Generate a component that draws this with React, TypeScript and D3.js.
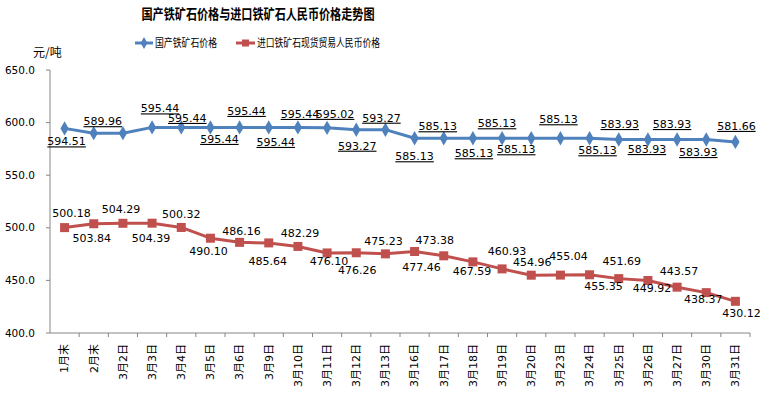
import React from 'react';
import * as d3 from 'd3';

const categories = ['1月末', '2月末', '3月2日', '3月3日', '3月4日', '3月5日', '3月6日', '3月9日', '3月10日', '3月11日', '3月12日', '3月13日',
  '3月16日', '3月17日', '3月18日', '3月19日', '3月20日', '3月23日', '3月24日', '3月25日', '3月26日', '3月27日', '3月30日', '3月31日'];

const domestic = [594.51, 589.96, 589.96, 595.44, 595.44, 595.44, 595.44, 595.44, 595.44, 595.02, 593.27, 593.27,
  585.13, 585.13, 585.13, 585.13, 585.13, 585.13, 585.13, 583.93, 583.93, 583.93, 583.93, 581.66];

const imported = [500.18, 503.84, 504.29, 504.39, 500.32, 490.10, 486.16, 485.64, 482.29, 476.10, 476.26, 475.23,
  477.46, 473.38, 467.59, 460.93, 454.96, 455.04, 455.35, 451.69, 449.92, 443.57, 438.37, 430.12];

const yTicks = [400, 450, 500, 550, 600, 650];

// label nudges (dx, dy) relative to each marker, as placed in the original
const domNudge: ([number, number] | null)[] = [
  [2, 17], [9, -8], null, [8, -15], [6, -5.5], [9, 15.5], [7, -12.5], [7, 18.5], [2, -9.5], [8, -10], [1, 20], [-4, -8],
  [0, 22], [-6, -8], [1, 19], [-5, -11], [-15, 15], [-2, -15], [8, 16], [1, -11.5], [-1, 13.5], [-5, -11.5], [-8, 16.5], [1, -12],
];
const impNudge: [number, number][] = [
  [7, -11], [-2, 18], [-2, -10.5], [-1, 18.5], [0, -9.5], [-2, 17], [2, -7.5], [-1, 22], [2, -9.5], [2, 12], [1, 21], [-2, -9],
  [7, 19], [-9, -12], [-1, 13], [5, -14], [1, -9], [8, -15], [14, 15], [3, -13.5], [4, 12], [2, -12], [-3, 10.5], [6, 16],
];

const W = 764;
const H = 393;
const margin = { top: 70, right: 14, bottom: 60, left: 50 };
const BLUE = '#4F81BD';
const RED = '#C0504D';
const AXIS = '#868686';
const NUM_FONT = '"DejaVu Sans", "Noto Sans CJK SC", sans-serif';
const CJK_FONT = '"Noto Sans CJK SC", sans-serif';

const App: React.FC = () => {
  const x = d3.scaleBand<string>().domain(categories).range([margin.left, W - margin.right]);
  const y = d3.scaleLinear().domain([400, 650]).range([H - margin.bottom, margin.top]);
  const cx = (i: number) => (x(categories[i]) || 0) + x.bandwidth() / 2;

  const line = d3.line<number>().x((_, i) => cx(i)).y((d) => y(d));
  const x0 = margin.left;
  const yBottom = y(400);
  const diamond = d3.symbol().type(d3.symbolDiamond).size(60)() || '';

  return (
    <svg width={W} height={H} style={{ position: 'absolute', left: 0, top: 0, background: '#fff' }}>
      {/* title */}
      <text x={258} y={19} textAnchor="middle" fontFamily={CJK_FONT} fontWeight="bold" fontSize={14}
        textLength={233} lengthAdjust="spacingAndGlyphs" fill="#000">国产铁矿石价格与进口铁矿石人民币价格走势图</text>

      {/* legend */}
      <g>
        <line x1={135} x2={153} y1={43} y2={43} stroke={BLUE} strokeWidth={3} />
        <path d={d3.symbol().type(d3.symbolDiamond).size(40)() || ''} transform="translate(144,43)" fill={BLUE} />
        <text x={155} y={47} fontFamily={CJK_FONT} fontSize={11} textLength={62} lengthAdjust="spacingAndGlyphs" fill="#000">国产铁矿石价格</text>
        <line x1={236} x2={255} y1={43} y2={43} stroke={RED} strokeWidth={3} />
        <rect x={242} y={39.5} width={7} height={7} fill={RED} />
        <text x={257} y={47} fontFamily={CJK_FONT} fontSize={11} textLength={123} lengthAdjust="spacingAndGlyphs" fill="#000">进口铁矿石现货贸易人民币价格</text>
      </g>

      <text x={33} y={57} fontFamily={CJK_FONT} fontSize={12} fill="#000">元/吨</text>

      {/* y axis */}
      <line x1={x0} x2={x0} y1={y(650)} y2={yBottom} stroke={AXIS} />
      {yTicks.map((t) => (
        <g key={t}>
          <line x1={x0 - 4} x2={x0} y1={y(t)} y2={y(t)} stroke={AXIS} />
          <text x={35} y={y(t)} dy="0.35em" textAnchor="end" fontFamily={NUM_FONT} fontSize={10.5} fill="#000">{t.toFixed(1)}</text>
        </g>
      ))}

      {/* x axis */}
      <line x1={x0} x2={W - margin.right} y1={yBottom} y2={yBottom} stroke={AXIS} />
      {categories.map((c, i) => (
        <line key={'t' + c} x1={(x(c) || 0) + x.bandwidth()} x2={(x(c) || 0) + x.bandwidth()} y1={yBottom} y2={yBottom + 4} stroke={AXIS} />
      ))}
      {categories.map((c, i) => (
        <text key={'l' + c} transform={`translate(${cx(i)},${yBottom + 11}) rotate(-90)`} dy="0.35em" textAnchor="end"
          fontFamily={NUM_FONT} fontSize={11} fill="#000">{c}</text>
      ))}

      {/* domestic series */}
      <path d={line(domestic) || ''} fill="none" stroke={BLUE} strokeWidth={3} strokeLinejoin="round" />
      {domestic.map((v, i) => (
        <path key={'d' + i} d={diamond} transform={`translate(${cx(i)},${y(v)})`} fill={BLUE} />
      ))}
      {domestic.map((v, i) => {
        const n = domNudge[i];
        if (!n) return null;
        return (
          <text key={'dl' + i} x={cx(i) + n[0]} y={y(v) + n[1]} textAnchor="middle" fontFamily={NUM_FONT} fontSize={11}
            textDecoration="underline" fill="#000">{v.toFixed(2)}</text>
        );
      })}

      {/* imported series */}
      <path d={line(imported) || ''} fill="none" stroke={RED} strokeWidth={3} strokeLinejoin="round" />
      {imported.map((v, i) => (
        <rect key={'r' + i} x={cx(i) - 4.5} y={y(v) - 4.5} width={9} height={9} fill={RED} />
      ))}
      {imported.map((v, i) => (
        <text key={'rl' + i} x={cx(i) + impNudge[i][0]} y={y(v) + impNudge[i][1]} textAnchor="middle" fontFamily={NUM_FONT}
          fontSize={11} fill="#000">{v.toFixed(2)}</text>
      ))}
    </svg>
  );
};

export default App;
